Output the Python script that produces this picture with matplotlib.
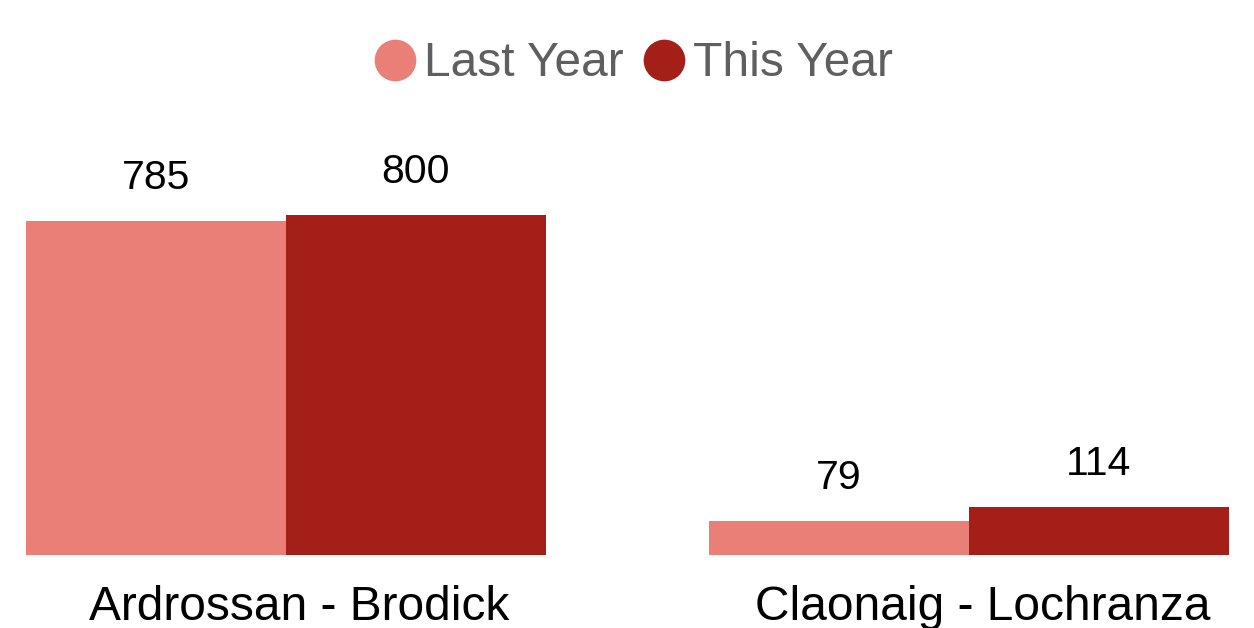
import matplotlib.pyplot as plt
from matplotlib.lines import Line2D
from matplotlib.transforms import blended_transform_factory

plt.rcParams['font.family'] = ['Liberation Sans', 'DejaVu Sans']

# DADOS
rotas = ['Ardrossan - Brodick', 'Claonaig - Lochranza']
last_year = [785, 79]
this_year = [800, 114]
series = ['Last Year', 'This Year']
cores = ['#EA7F77', '#A41F18']

fig = plt.figure(figsize=(12.54, 6.28), dpi=100)
ax = fig.add_axes([0, 73 / 628, 1, 555 / 628])

largura = 0.38
x = range(len(rotas))
for i, (vals, cor) in enumerate(zip([last_year, this_year], cores)):
    pos = [xi + (i - 0.5) * largura for xi in x]
    ax.bar(pos, vals, width=largura, color=cor, align='center')
    # ROTULOS DE VALOR
    for p, v in zip(pos, vals):
        ax.annotate(str(v), (p, v), xytext=(0, 23), textcoords='offset points',
                    ha='center', va='baseline', fontsize=29.5, color='black')

ax.set_xlim(-0.4187, 1.4173)
ax.set_ylim(0, 555 / 0.425)
ax.axis('off')

# NOMES DAS ROTAS (cortados embaixo, como no original)
trans = blended_transform_factory(ax.transData, fig.transFigure)
for xi, nome in zip(x, rotas):
    ax.text(xi + 0.02, 8 / 628, nome, transform=trans, ha='center', va='baseline',
            fontsize=34.5, color='black')

# LEGENDA
handles = [Line2D([], [], linestyle='none', marker='o', markersize=29,
                  markerfacecolor=c, markeredgecolor=c) for c in cores]
fig.legend(handles, series, loc='center', bbox_to_anchor=(0.5 + 10 / 1254, 1 - 64 / 628),
           ncol=2, frameon=False, fontsize=34.5, labelcolor='#5f5f5f',
           handlelength=0.6, handletextpad=0.3, columnspacing=0.55,
           borderaxespad=0, borderpad=0)

fig.savefig('out.png', dpi=100)
